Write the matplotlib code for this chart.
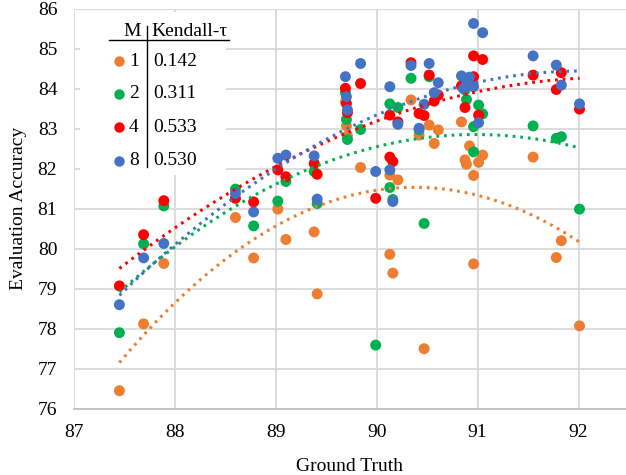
import numpy as np
import matplotlib
matplotlib.use("Agg")
import matplotlib.pyplot as plt
from matplotlib.patches import Rectangle
from matplotlib.lines import Line2D

plt.rcParams['font.family'] = ['Liberation Serif', 'DejaVu Serif']

# ---- data ----
m_labels = ["1", "2", "4", "8"]
kendall = ["0.142", "0.311", "0.533", "0.530"]
colors = ["#ED7D31", "#00B050", "#FF0000", "#4472C4"]

# the M=1 point at ~90.0 lies below the visible range (clipped), estimated
x_m1 = [87.45, 87.69, 87.89, 88.60, 88.78, 89.02, 89.10, 89.38, 89.41, 89.69, 89.70, 89.71,
        89.84, 89.99, 90.13, 90.13, 90.16, 90.21, 90.34, 90.42, 90.47, 90.52, 90.57, 90.61, 90.84,
        90.92, 90.875, 90.89, 91.05, 91.01, 90.96, 90.96, 91.55, 91.78, 91.83, 92.01]
y_m1 = [76.45, 78.12, 79.63, 80.78, 79.77, 80.99, 80.23, 80.42, 78.87, 83.67, 83.07, 82.82,
        82.03, 73.00, 81.84, 79.86, 79.39, 81.72, 83.72, 82.84, 77.50, 83.09, 82.63, 82.97, 83.17,
        82.57, 82.22, 82.11, 82.34, 82.16, 81.83, 79.62, 82.29, 79.78, 80.20, 78.07]

x_m2 = [87.45, 87.69, 87.89, 88.60, 88.78, 89.02, 89.10, 89.38, 89.41, 89.69, 89.70, 89.71,
        89.84, 89.99, 90.13, 90.13, 90.16, 90.21, 90.34, 90.42, 90.47, 90.52, 90.875, 90.89,
        91.01, 91.05, 90.96, 90.96, 91.55, 91.78, 91.83, 92.01]
y_m2 = [77.90, 80.12, 81.07, 81.49, 80.57, 81.19, 81.68, 81.93, 81.13, 83.90, 83.23, 82.73,
        82.98, 77.59, 83.62, 81.53, 81.23, 83.53, 84.26, 82.97, 80.63, 84.30, 83.97, 83.73,
        83.59, 83.37, 83.05, 82.42, 83.07, 82.76, 82.80, 80.99]

x_m4 = [87.45, 87.69, 87.89, 88.60, 88.78, 89.02, 89.10, 89.38, 89.41, 89.69, 89.70, 89.71,
        89.84, 89.99, 90.13, 90.13, 90.16, 90.21, 90.34, 90.42, 90.47, 90.52, 90.57, 90.61,
        90.84, 90.96, 90.875, 91.01, 90.96, 91.05, 91.55, 91.78, 91.83, 92.01]
y_m4 = [79.07, 80.35, 81.20, 81.26, 81.17, 81.97, 81.80, 82.13, 81.86, 84.01, 83.63, 83.40,
        84.13, 81.26, 83.34, 82.29, 82.18, 83.17, 84.65, 83.38, 83.33, 84.34, 83.69, 83.84,
        84.07, 84.30, 83.53, 83.34, 84.82, 84.73, 84.34, 83.98, 84.40, 83.49]

x_m8 = [87.45, 87.69, 87.89, 88.60, 88.78, 89.02, 89.10, 89.38, 89.41, 89.69, 89.70, 89.71,
        89.84, 89.99, 90.13, 90.13, 90.16, 90.21, 90.34, 90.42, 90.47, 90.52, 90.57, 90.61,
        90.84, 90.92, 90.89, 90.96, 90.86, 90.96, 91.05, 91.01, 91.55, 91.78, 91.83, 92.01]
y_m8 = [78.60, 79.77, 80.13, 81.38, 80.92, 82.26, 82.34, 82.32, 81.24, 84.30, 83.80, 83.47,
        84.63, 81.93, 84.05, 81.97, 81.18, 83.11, 84.58, 83.01, 83.61, 84.63, 83.90, 84.15,
        84.32, 84.29, 84.13, 84.05, 84.00, 85.63, 85.40, 83.15, 84.82, 84.59, 84.09, 83.62]

xs = [x_m1, x_m2, x_m4, x_m8]
ys = [y_m1, y_m2, y_m4, y_m8]

x_ticks = [87, 88, 89, 90, 91, 92]
y_ticks = [76, 77, 78, 79, 80, 81, 82, 83, 84, 85, 86]

# ---- figure ----
W, H = 626, 475
fig = plt.figure(figsize=(W / 100, H / 100), dpi=100)
ax_left, ax_right, ax_top, ax_bot = 74, 626, 8.7, 408.7
ax = fig.add_axes([ax_left / W, 1 - ax_bot / H, (ax_right - ax_left) / W, (ax_bot - ax_top) / H])
ax.set_xlim(87, 87 + (ax_right - ax_left) / 100.9)
ax.set_ylim(76, 86)
ax.set_xticks(x_ticks)
ax.set_yticks(y_ticks)
ax.tick_params(length=0, labelsize=14, colors='#000000')
ax.tick_params(axis='y', pad=12)
ax.tick_params(axis='x', pad=11)
ax.grid(True, color='#D9D9D9', linewidth=1.3, zorder=0)
ax.set_axisbelow(True)
for s in ['top', 'right', 'left']:
    ax.spines[s].set_visible(False)
ax.spines['bottom'].set_color('#BFBFBF')
ax.spines['bottom'].set_linewidth(1.3)

for x, y, c in zip(xs, ys, colors):
    ax.scatter(x, y, s=62, color=c, edgecolors='none', zorder=3)

for x, y, c in zip(xs, ys, colors):
    coef = np.polyfit(x, y, 2)
    xx = np.linspace(min(x), max(x), 200)
    ax.plot(xx, np.polyval(coef, xx), color=c, linewidth=2.2,
            linestyle=(0, (0.9, 1.6)), zorder=4)

ax.set_xlabel("Ground Truth", fontsize=14, labelpad=12)
ax.set_ylabel("Evaluation Accuracy", fontsize=14, labelpad=8)

# ---- custom legend table ----
def fx(px):
    return px / W

def fy(py):
    return 1 - py / H

fig.patches.append(Rectangle((fx(80), fy(175)), fx(226) - fx(80), fy(12) - fy(175),
                             transform=fig.transFigure, facecolor='white', edgecolor='none', zorder=5))
fig.lines.append(Line2D([fx(109), fx(229)], [fy(40), fy(40)], transform=fig.transFigure,
                        color='black', linewidth=1.0, zorder=6))
fig.lines.append(Line2D([fx(147.3), fx(147.3)], [fy(25.5), fy(167)], transform=fig.transFigure,
                        color='black', linewidth=1.0, zorder=6))
fig.text(fx(141), fy(31), "M", ha='right', va='center', fontsize=14, zorder=7)
fig.text(fx(151.5), fy(31), "Kendall-τ", ha='left', va='center', fontsize=14, zorder=7)
row_y = [61, 94, 127.3, 160.7]
for ry, lab, kt, c in zip(row_y, m_labels, kendall, colors):
    fig.lines.append(Line2D([fx(118.5)], [fy(ry)], transform=fig.transFigure, marker='o',
                            markersize=7.5, color=c, markeredgewidth=0, linestyle='none', zorder=7))
    fig.text(fx(129), fy(ry), lab, ha='left', va='center', fontsize=14, zorder=7)
    fig.text(fx(153), fy(ry), kt, ha='left', va='center', fontsize=14, zorder=7)

fig.savefig("out.png", dpi=100)
